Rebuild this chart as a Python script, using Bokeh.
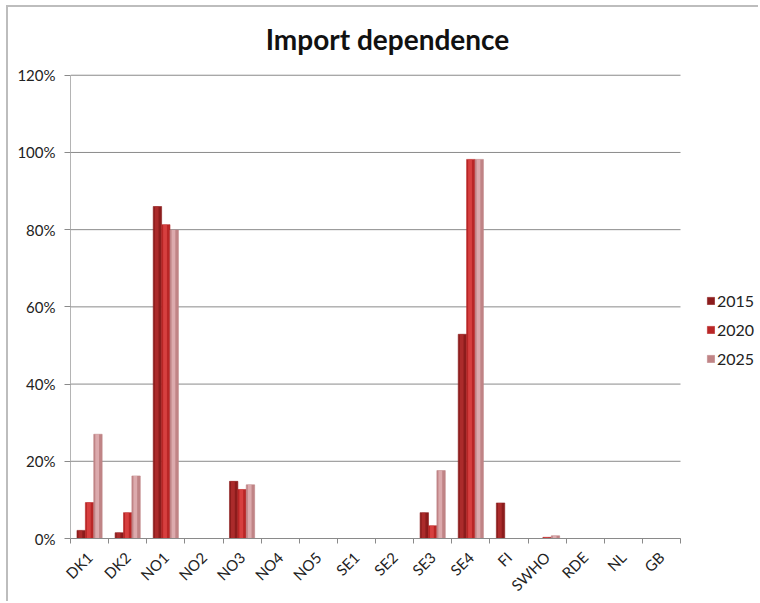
from bokeh.plotting import figure
from bokeh.models import (ColumnDataSource, FixedTicker, LinearAxis, NumeralTickFormatter,
                          Range1d, Legend, LegendItem, Label)
from bokeh.transform import dodge
from bokeh.embed import file_html
from bokeh.resources import INLINE

# Price areas and import dependence per scenario year (share of demand)
areas = ["DK1", "DK2", "NO1", "NO2", "NO3", "NO4", "NO5", "SE1", "SE2", "SE3",
         "SE4", "FI", "SWHO", "RDE", "NL", "GB"]
years = ["2015", "2020", "2025"]
dep_2015 = [0.021, 0.015, 0.860, 0.0, 0.148, 0.0, 0.0, 0.0, 0.0, 0.067, 0.529, 0.092, 0.0, 0.0, 0.0, 0.0]
dep_2020 = [0.093, 0.067, 0.813, 0.0, 0.127, 0.0, 0.0, 0.0, 0.0, 0.033, 0.982, 0.0, 0.003, 0.0, 0.0, 0.0]
dep_2025 = [0.270, 0.162, 0.799, 0.0, 0.139, 0.0, 0.0, 0.0, 0.0, 0.176, 0.982, 0.0, 0.007, 0.0, 0.0, 0.0]
y_ticks = [0.0, 0.2, 0.4, 0.6, 0.8, 1.0, 1.2]
title_text = "Import dependence"

# base / highlight colours for each year's bars
base_colors = ["#8c1c1c", "#b92626", "#c08486"]
light_colors = ["#b33030", "#de4646", "#e2b4b6"]

n = len(areas)
centers = [i + 0.5 for i in range(n)]
src = ColumnDataSource(dict(x=centers, y2015=dep_2015, y2020=dep_2020, y2025=dep_2025))

FONT = "Lato"
W, H = 752, 596
LEFT, BOTTOM = 62, 63
PLOT_W, PLOT_H = 610, 465               # pixel size of the category / 0-120 % area
frame_w, frame_h = W - LEFT, H - BOTTOM
x_end = n * frame_w / PLOT_W            # extra room on the right holds the legend
y_end = y_ticks[-1] * frame_h / PLOT_H  # extra room on top holds the title

p = figure(width=W, height=H, x_range=Range1d(0, x_end), y_range=Range1d(0, y_end),
           title=None, output_backend="svg", toolbar_location=None,
           min_border_left=LEFT, min_border_right=0, min_border_top=0, min_border_bottom=BOTTOM)

# chart-area border along the top and left edges
p.margin = (5, 0, 0, 6)
p.styles = {"border-top": "2px solid #bdbdbd", "border-left": "2px solid #bdbdbd"}

p.outline_line_color = None
p.background_fill_color = "white"
p.border_fill_color = "white"

# chart title, placed above the 120 % line
units_per_px_x = n / PLOT_W
units_per_px_y = y_ticks[-1] / PLOT_H
p.add_layout(Label(x=(387 - 70) * units_per_px_x, y=(540 - 39) * units_per_px_y,
                   text=title_text, text_align="center", text_baseline="middle",
                   text_font=FONT, text_font_size="28px", text_font_style="bold",
                   text_color="#111111"))

# horizontal gridlines across the category area only
p.xgrid.grid_line_color = None
p.ygrid.grid_line_color = None
p.segment(x0=[0] * len(y_ticks), x1=[n] * len(y_ticks), y0=y_ticks, y1=y_ticks,
          line_color="#8a8a8a", line_width=1)

# y axis with percentage labels
p.yaxis.ticker = FixedTicker(ticks=y_ticks)
p.yaxis.formatter = NumeralTickFormatter(format="0%")
p.yaxis.axis_line_color = "#b4b4b4"
p.yaxis.major_tick_line_color = "#8a8a8a"
p.yaxis.major_tick_out = 6
p.yaxis.major_tick_in = 0
p.yaxis.minor_tick_line_color = None
p.yaxis.major_label_text_font = FONT
p.yaxis.major_label_text_font_size = "15px"
p.yaxis.major_label_text_color = "#222222"
p.yaxis.major_label_standoff = 9
p.yaxis.bounds = (0, y_ticks[-1])

# x axis: tick marks at category boundaries, names at category centres
bx = p.xaxis[0]
bx.bounds = (0, n)
bx.ticker = FixedTicker(ticks=list(range(n + 1)))
bx.major_label_overrides = {i: "" for i in range(n + 1)}
bx.axis_line_color = "#8a8a8a"
bx.major_tick_line_color = "#8a8a8a"
bx.major_tick_out = 5
bx.major_tick_in = 0
bx.minor_tick_line_color = None
bx.major_label_standoff = 0
bx.major_label_text_font_size = "1px"

lx = LinearAxis(ticker=FixedTicker(ticks=centers),
                major_label_overrides={c: a for c, a in zip(centers, areas)})
lx.axis_line_color = None
lx.major_tick_line_color = None
lx.minor_tick_line_color = None
lx.major_label_orientation = 0.7854
lx.major_label_text_font = FONT
lx.major_label_text_font_size = "15px"
lx.major_label_text_color = "#222222"
lx.major_label_standoff = 5
p.add_layout(lx, "below")

bar_w = 0.22
offsets = [-bar_w, 0.0, bar_w]
cols = ["y2015", "y2020", "y2025"]
legend_items = []
for yr, col, off, bc, lc in zip(years, cols, offsets, base_colors, light_colors):
    r = p.vbar(x=dodge("x", off), top=col, width=bar_w, bottom=0, source=src,
               fill_color=bc, line_color=bc, line_width=0.6)
    # lighter band gives the rounded, shaded look of the columns
    p.vbar(x=dodge("x", off - 0.02), top=col, width=bar_w * 0.45, bottom=0, source=src,
           fill_color=lc, line_color=None, fill_alpha=0.8)
    legend_items.append(LegendItem(label=yr, renderers=[r]))

legend = Legend(items=legend_items, location=(636, 170))
legend.border_line_color = None
legend.background_fill_alpha = 0
legend.padding = 0
legend.margin = 0
legend.spacing = 9
legend.glyph_width = 9
legend.glyph_height = 9
legend.label_height = 20
legend.label_standoff = 2
legend.label_text_font = FONT
legend.label_text_font_size = "16px"
legend.label_text_color = "#222222"
p.add_layout(legend)

open("out.html", "w").write(file_html(p, INLINE))
